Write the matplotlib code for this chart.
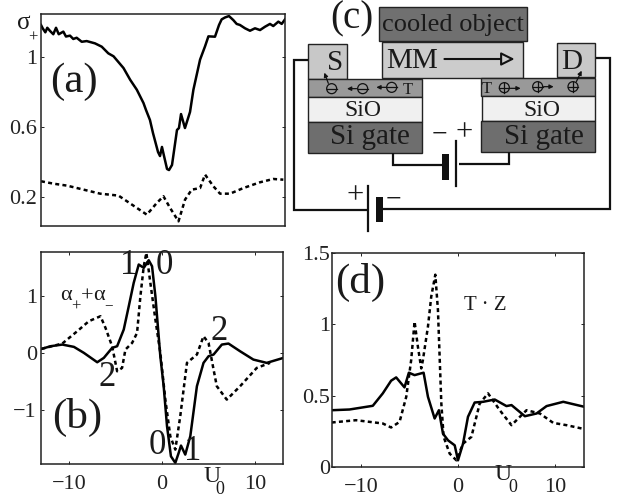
import matplotlib
matplotlib.use("Agg")
import matplotlib.pyplot as plt
from matplotlib.patches import Rectangle, Circle

plt.rcParams['font.family'] = ['Liberation Serif', 'DejaVu Sans']
plt.rcParams['axes.unicode_minus'] = True

W, H = 629, 499

# ---------- data ----------
a_solid_x = [-13, -12.82, -12.54, -12.33, -12.04, -11.69, -11.4, -11.11, -10.62, -10.34, -9.91, -9.56, -9.2, -8.66, -8.13, -7.25, -6.53, -5.83, -5.27, -4.21, -3.5, -2.79, -2.08, -1.81, -1.39, -1.07, -.53, -.32, -.11, .11, .43, .64, .96, 1.49, 1.70, 1.92, 2.34, 2.88, 3.24, 3.95, 4.48, 4.84, 5.54, 5.97, 6.25, 6.61, 7.03, 7.49, 7.85, 8.2, 8.74, 9.27, 9.8, 10.34, 10.87, 11.4, 11.75, 12.29, 12.65, 13]
a_solid_y = [1.183, 1.164, 1.141, 1.167, 1.149, 1.13, 1.167, 1.13, 1.145, 1.117, 1.122, 1.103, 1.11, 1.087, 1.091, 1.078, 1.059, 1.021, 1.004, .937, .870, .813, .737, .697, .64, .566, .457, .434, .486, .434, .36, .354, .383, .583, .594, .674, .594, .686, .813, .985, 1.061, 1.118, 1.116, 1.183, 1.215, 1.226, 1.234, 1.211, 1.189, 1.183, 1.164, 1.15, 1.164, 1.154, 1.173, 1.189, 1.177, 1.202, 1.189, 1.215]
a_dash_x = [-13, -11.65, -10.23, -8.46, -6.69, -4.74, -3.05, -1.72, -0.66, 0.05, 0.76, 1.65, 2.35, 3.06, 3.95, 4.48, 5.37, 6.08, 7.14, 8.56, 10.33, 11.75, 12.82]
a_dash_y = [.290, .276, .265, .242, .219, .208, .147, .099, .166, .204, .137, .061, .185, .242, .251, .328, .261, .219, .219, .251, .284, .303, .299]

b_solid_x = [-12.96, -11.96, -10.71, -9.46, -8.39, -6.96, -6.25, -5.36, -4.82, -4.11, -3.57, -3.04, -2.5, -1.96, -1.43, -1.07, -.71, -.18, .18, .54, .96, 1.43, 1.79, 2.04, 2.5, 3.04, 3.75, 4.46, 5.0, 5.54, 6.43, 7.14, 8.39, 9.82, 11.25, 13.04]
b_solid_y = [.07, .118, .147, .106, 0, -.165, -.088, .088, .118, .412, .824, 1.235, 1.559, 1.5, 1.635, 1.529, 1.0, -.059, -.588, -1.294, -1.824, -1.94, -1.765, -1.635, -1.794, -1.47, -.588, -.176, -.059, -.029, .147, .165, .029, -.118, -.176, -.088]
b_dash_x = [-12.96, -10.71, -9.11, -7.86, -6.61, -6.07, -5.36, -5.0, -4.82, -4.29, -3.93, -3.21, -2.68, -2.32, -1.96, -1.68, -1.25, -.71, -.18, .36, .89, 1.43, 1.96, 2.68, 3.75, 4.46, 5.0, 5.54, 5.89, 6.96, 8.39, 10.18, 11.61]
b_dash_y = [.07, .165, .382, .559, .647, .441, .118, -.176, -.324, -.265, .059, .176, .353, 1.0, 1.529, 1.765, 1.235, .588, 0, -.824, -1.47, -1.706, -1.118, -.176, -.029, .294, .176, -.294, -.588, -.824, -.588, -.265, -.176]

d_solid_x = [-13.03, -11.2, -8.79, -7.76, -6.9, -6.38, -5.52, -5.07, -4.48, -3.55, -3.1, -2.41, -1.97, -1.55, -1.03, -.34, 0, .52, 1.03, 1.72, 2.59, 3.79, 5.0, 5.52, 6.9, 8.1, 9.14, 10.86, 13.03]
d_solid_y = [.398, .403, .429, .516, .605, .628, .558, .661, .644, .661, .492, .34, .398, .234, .187, .152, .047, .164, .352, .452, .457, .473, .427, .434, .356, .375, .427, .457, .422]
d_dash_x = [-13.03, -10.52, -7.76, -6.9, -6.03, -5.34, -4.83, -4.48, -4.14, -3.79, -3.62, -3.1, -2.76, -2.34, -2.07, -1.72, -1.48, -.86, -.17, .52, 1.38, 2.24, 3.1, 4.31, 5.52, 7.07, 8.45, 9.83, 11.21, 12.76]
d_dash_y = [.312, .328, .305, .277, .316, .492, .75, 1.019, .844, .691, .75, .984, 1.195, 1.348, 1.101, .445, .211, .094, .047, .164, .211, .445, .516, .398, .293, .398, .375, .309, .293, .27]

a_yticks = [0.2, 0.6, 1]
a_yticklabels = ['0.2', '0.6', '1']
b_yticks = [-1, 0, 1]
b_yticklabels = ['\u22121', '0', '1']
d_yticks = [0, 0.5, 1, 1.5]
d_yticklabels = ['0', '0.5', '1', '1.5']
x_ticks = [-10, 0, 10]
x_ticklabels = ['\u221210', '0', '10']


fig = plt.figure(figsize=(W / 100, H / 100), dpi=100, facecolor='white')


def make_axes(x0, y0, x1, y1):
    ax = fig.add_axes([x0 / W, 1 - y1 / H, (x1 - x0) / W, (y1 - y0) / H])
    ax.tick_params(direction='in', length=2.5, width=0.7, labelsize=16, color='#222222',
                   labelcolor='#222222', top=True, right=True)
    ax.tick_params(axis='y', pad=3)
    ax.tick_params(axis='x', pad=8)
    for s in ax.spines.values():
        s.set_linewidth(1.1)
        s.set_color('#222222')
    return ax


def curves(ax, sx, sy, dx, dy):
    ax.plot(sx, sy, color='black', lw=1.8, solid_joinstyle='round')
    ax.plot(dx, dy, color='black', lw=1.8, dashes=(1.6, 1.3))


TXT = '#1a1a1a'

# panel a
axa = make_axes(41, 14, 285, 226)
curves(axa, a_solid_x, a_solid_y, a_dash_x, a_dash_y)
axa.set_xlim(-13, 13)
axa.set_ylim(1 - (226 - 57) / 175, 1 + (57 - 14) / 175)
axa.set_xticks([])
axa.set_yticks(a_yticks)
axa.set_yticklabels(a_yticklabels)

# panel b
axb = make_axes(41, 252, 283, 464)
curves(axb, b_solid_x, b_solid_y, b_dash_x, b_dash_y)
axb.set_xlim(-13, 13)
axb.set_ylim(-1.96, 1.78)
axb.set_xticks(x_ticks)
axb.set_xticklabels(x_ticklabels)
axb.set_yticks(b_yticks)
axb.set_yticklabels(b_yticklabels)

# panel d
axd = make_axes(332, 253, 584, 467)
curves(axd, d_solid_x, d_solid_y, d_dash_x, d_dash_y)
axd.set_xlim(-13, 13)
axd.set_ylim(0, 1.5)
axd.set_xticks(x_ticks)
axd.set_xticklabels(x_ticklabels)
axd.set_yticks(d_yticks)
axd.set_yticklabels(d_yticklabels)
axd.tick_params(axis='y', pad=1.5)

# overlay in figure pixels for annotations
ov = fig.add_axes([0, 0, 1, 1], zorder=5)
ov.set_xlim(0, W)
ov.set_ylim(H, 0)
ov.axis('off')
ov.patch.set_alpha(0)


def t(x, y, s, size, **kw):
    ov.text(x, y, s, fontsize=size, ha='center', va='center', color=TXT, **kw)


t(24, 23, '\u03c3', 18)
t(33, 38, '+', 12)
t(74, 82, '(a)', 31)
t(77, 417, '(b)', 31)
t(360, 282, '(d)', 31)
t(66, 295, '\u03b1', 16)
t(76, 307, '+', 12)
t(87, 297, '+', 16)
t(99, 295, '\u03b1', 16)
t(109, 306, '\u2212', 11)
t(129, 266, '1', 25)
t(164, 266, '0', 25)
t(107, 378, '2', 25)
t(157, 445, '0', 25)
t(193, 452, '1', 25)
t(219, 332, '2', 25)
t(212, 476, 'U', 17)
t(220, 489, '0', 13)
t(503, 475, 'U', 17)
t(513, 488, '0', 13)
t(485, 305, 'T \u00b7 Z', 15)

# panel c, drawn in the coordinates of a 3x crop
axc = fig.add_axes([285 / W, 1 - 240 / H, 344 / W, 240 / H], zorder=4)
axc.set_xlim(0, 1032)
axc.set_ylim(720, 0)
axc.axis('off')
axc.patch.set_alpha(0)


def box(x0, y0, x1, y1, c):
    axc.add_patch(Rectangle((x0, y0), x1 - x0, y1 - y0, fc=c, ec='#222222', lw=1.0))


box(282, 22, 725, 122, '#707070')
box(290, 127, 715, 233, '#cccccc')
box(68, 133, 185, 237, '#c8c8c8')
box(815, 130, 930, 232, '#c8c8c8')
box(68, 237, 412, 290, '#999999')
box(70, 290, 412, 365, '#f0f0f0')
box(70, 365, 412, 460, '#6e6e6e')
box(587, 233, 930, 288, '#999999')
box(590, 288, 930, 362, '#f0f0f0')
box(587, 362, 930, 457, '#6e6e6e')


def ct(x, y, s, size, **kw):
    axc.text(x, y, s, fontsize=size, ha='center', va='center', color=TXT, **kw)


ct(200, 58, '(c)', 28)
ct(505, 76, 'cooled object', 19)
ct(380, 183, 'MM', 21)
ct(150, 188, 'S', 21)
ct(860, 185, 'D', 21)
ct(233, 330, 'SiO', 17)
ct(770, 330, 'SiO', 17)
ct(255, 412, 'Si gate', 21)
ct(777, 412, 'Si gate', 21)
ct(367, 270, 'T', 12)
ct(605, 268, 'T', 12)
ct(462, 405, '\u2212', 20)
ct(537, 398, '+', 22)
ct(209, 587, '+', 22)
ct(326, 600, '\u2212', 20)

wire = dict(color='#111111', lw=1.6, solid_capstyle='butt', solid_joinstyle='miter')
axc.plot([68, 27, 27, 248], [179, 179, 629, 629], **wire)
axc.plot([290, 975, 975, 932], [627, 627, 175, 175], **wire)
axc.plot([248, 248], [558, 693], color='#111111', lw=1.6)
axc.add_patch(Rectangle((273, 590), 20, 75, fc='#111111', ec='none'))
axc.plot([323, 323, 470], [460, 495, 495], **wire)
axc.plot([523, 672, 672], [493, 493, 457], **wire)
axc.plot([514, 514], [422, 557], color='#111111', lw=1.6)
axc.add_patch(Rectangle((471, 462), 21, 77, fc='#111111', ec='none'))

# MM arrow
axc.annotate('', xy=(697, 177), xytext=(470, 177),
             arrowprops=dict(arrowstyle='-|>', color='#111111', lw=1.5, mutation_scale=20, fc='#cccccc'))

# charges in the channel
for (cx, cy), sym in zip([(140, 266), (233, 266), (320, 262), (658, 263), (758, 260), (864, 260)],
                         ['-', '-', '-', '+', '+', '+']):
    axc.add_patch(Circle((cx, cy), 15, fc='none', ec='#111111', lw=0.9))
    axc.plot([cx - 15, cx + 15], [cy, cy], color='#111111', lw=0.9)
    if sym == '+':
        axc.plot([cx, cx], [cy - 15, cy + 15], color='#111111', lw=0.9)

small = dict(arrowstyle='-|>', color='#111111', lw=0.9, mutation_scale=6, shrinkA=0, shrinkB=0)
for start, end in [((215, 266), (186, 266)), ((303, 262), (274, 262)),
                   ((676, 265), (707, 265)), ((776, 260), (806, 260)),
                   ((130, 250), (118, 218)), ((874, 245), (890, 212))]:
    axc.annotate('', xy=end, xytext=start, arrowprops=small)

fig.savefig('out.png', dpi=100)
